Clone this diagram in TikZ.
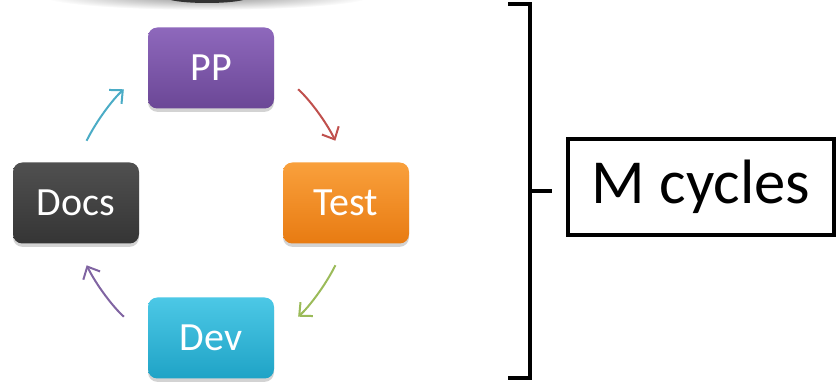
\documentclass[tikz,border=0pt]{standalone}
\usepackage{fontspec}
\setmainfont{Carlito}
\usetikzlibrary{arrows.meta,shadows}

\definecolor{ppTop}{HTML}{8E68BC}
\definecolor{ppBot}{HTML}{6B4796}
\definecolor{testTop}{HTML}{F9A03C}
\definecolor{testBot}{HTML}{E87B12}
\definecolor{docsTop}{HTML}{505050}
\definecolor{docsBot}{HTML}{353535}
\definecolor{devTop}{HTML}{4CC8E6}
\definecolor{devBot}{HTML}{1FA3C6}
\definecolor{arTeal}{HTML}{4BACC6}
\definecolor{arRed}{HTML}{C0504D}
\definecolor{arGreen}{HTML}{9BBB59}
\definecolor{arPurple}{HTML}{8064A2}

\tikzset{
  stepbox/.style={rounded corners=7pt, minimum width=94.5pt, minimum height=60.75pt,
    text=white, font=\fontsize{30}{30}\selectfont,
    drop shadow={opacity=0.35, shadow xshift=0pt, shadow yshift=-2.5pt}},
  cycarrow/.style={line width=1.5pt, -{Straight Barb[length=7.5pt,width=14pt]}, bend right=11},
}

\begin{document}
\begin{tikzpicture}[x=0.75pt,y=0.75pt,yscale=-1,xscale=1]
        \useasboundingbox (0,0) rectangle (836,384);
        % shadow of the shape above
        \begin{scope}
            \clip (0,0) rectangle (420,30);
            \shade[inner color=black!45, outer color=white] (207,-4) ellipse [x radius=165, y radius=14];
            \fill[black!80] (207,-3) ellipse [x radius=42, y radius=6];
        \end{scope}

        \node[stepbox, top color=ppTop, bottom color=ppBot] (pp) at (211,68) {PP};
        \node[stepbox, top color=testTop, bottom color=testBot] (test) at (346,203) {Test};
        \node[stepbox, top color=devTop, bottom color=devBot] (dev) at (211,338) {Dev};
        \node[stepbox, top color=docsTop, bottom color=docsBot] (docs) at (76,203) {Docs};

        \draw[cycarrow, arTeal, shorten <=18pt, shorten >=24pt] (docs.north) to (pp.west);
        \draw[cycarrow, arRed, shorten <=24pt, shorten >=18pt] (pp.east) to (test.north);
        \draw[cycarrow, arGreen, shorten <=18pt, shorten >=24pt] (test.south) to (dev.east);
        \draw[cycarrow, arPurple, shorten <=24pt, shorten >=18pt] (dev.west) to (docs.south);

        % bracket and label
        \node[draw, line width=3pt, minimum width=200pt, minimum height=72pt,
              font=\fontsize{47}{47}\selectfont] (cycles) at (701,187) {M cycles};
        \draw[line width=3pt] (508,4) -- (530,4) -- (530,378) -- (508,378);
        \coordinate (brk) at (530,191);
        \draw[line width=3pt] (brk) -- ([xshift=-10.5pt]cycles.west |- brk);
\end{tikzpicture}
\end{document}
